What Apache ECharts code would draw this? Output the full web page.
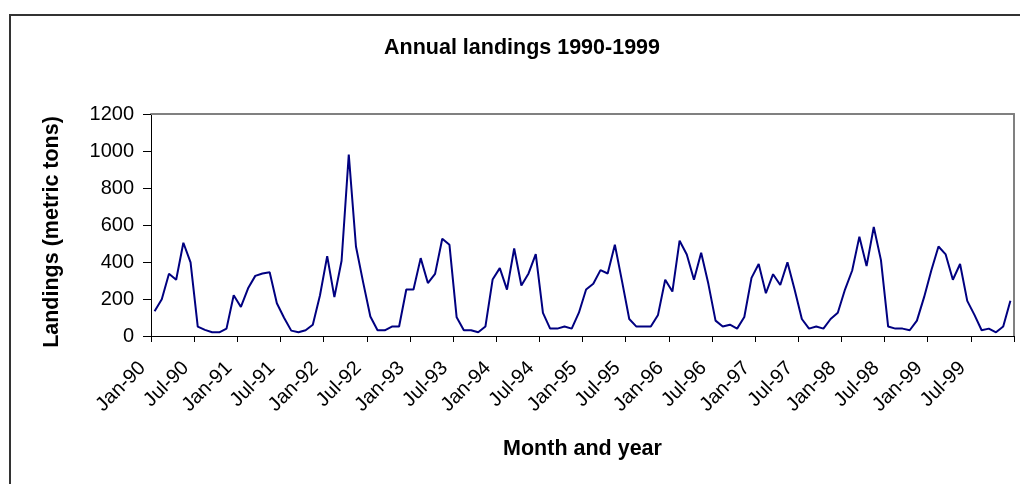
<!DOCTYPE html>
<html>
<head>
<meta charset="utf-8">
<title>Annual landings 1990-1999</title>
<script src="https://cdn.jsdelivr.net/npm/echarts@6/dist/echarts.min.js"></script>
<style>
  html, body { margin: 0; padding: 0; background: #fff; }
  #chart { width: 1020px; height: 484px; }
</style>
</head>
<body>
<div id="chart"></div>
<script>
// Month and year labels for the category axis
var MONTHS = ['Jan', 'Feb', 'Mar', 'Apr', 'May', 'Jun', 'Jul', 'Aug', 'Sep', 'Oct', 'Nov', 'Dec'];
var YEARS = ['90', '91', '92', '93', '94', '95', '96', '97', '98', '99'];

// Monthly landings, metric tons, one row per year
var landings = [
  134, 199, 336, 304, 504, 398,  51,  33,  20,  20,  40, 220,  // 1990
  157, 258, 325, 338, 345, 177,  99,  29,  20,  31,  61, 220,  // 1991
  432, 210, 407, 981, 484, 290, 105,  31,  31,  51,  51, 251,  // 1992
  251, 421, 286, 336, 526, 493, 101,  31,  31,  20,  51, 305,  // 1993
  367, 251, 473, 273, 338, 443, 125,  40,  40,  51,  40, 126,  // 1994
  251, 282, 356, 338, 493, 295,  92,  51,  51,  51, 114, 304,  // 1995
  240, 515, 441, 304, 450, 282,  83,  51,  61,  40, 103, 314,  // 1996
  389, 231, 334, 276, 398, 250,  92,  40,  51,  40,  92, 126,  // 1997
  251, 354, 537, 378, 589, 410,  51,  40,  40,  31,  83, 210,  // 1998
  354, 484, 441, 304, 389, 190, 114,  31,  40,  20,  51, 190   // 1999
];

// Y axis scale
var Y_MIN = 0, Y_MAX = 1200, Y_STEP = 200;

var categories = [];
YEARS.forEach(function (yy) {
  MONTHS.forEach(function (m) { categories.push(m + '-' + yy); });
});

var FONT = '"Liberation Sans", Arial, sans-serif';

var chart = echarts.init(document.getElementById('chart'), null, { renderer: 'canvas' });

chart.setOption({
  animation: false,
  backgroundColor: '#ffffff',
  textStyle: { fontFamily: FONT, color: '#000' },
  title: {
    text: 'Annual landings 1990-1999',
    left: 517,
    top: 32,
    textAlign: 'center',
    textStyle: { fontFamily: FONT, fontSize: 21.5, fontWeight: 'bold', color: '#000' }
  },
  graphic: [{
    // outer chart frame
    type: 'rect',
    silent: true,
    shape: { x: 10, y: 15, width: 1030, height: 500 },
    style: { fill: 'none', stroke: '#333333', lineWidth: 2 }
  }],
  grid: { left: 151, right: 6, top: 114, bottom: 148, containLabel: false },
  xAxis: [{
    type: 'category',
    data: categories,
    boundaryGap: true,
    name: 'Month and year',
    nameLocation: 'middle',
    nameGap: 102,
    nameTextStyle: { fontFamily: FONT, fontSize: 21.5, fontWeight: 'bold', color: '#000' },
    axisLine: { show: true, lineStyle: { color: '#000', width: 1 } },
    axisTick: { show: true, interval: 5, length: 6, lineStyle: { color: '#000', width: 1 } },
    axisLabel: {
      interval: 5,
      rotate: 45,
      margin: 17,
      padding: [0, 17, 0, 0],
      fontFamily: FONT,
      fontSize: 20,
      color: '#000'
    },
    splitLine: { show: false }
  }, {
    // plot frame, top edge
    type: 'category',
    position: 'top',
    data: categories,
    axisLine: { show: true, onZero: false, lineStyle: { color: '#808080', width: 2 } },
    axisTick: { show: false },
    axisLabel: { show: false },
    splitLine: { show: false }
  }],
  yAxis: [{
    type: 'value',
    min: Y_MIN,
    max: Y_MAX,
    interval: Y_STEP,
    name: 'Landings (metric tons)',
    nameLocation: 'middle',
    nameGap: 88,
    nameTextStyle: {
      fontFamily: FONT, fontSize: 21.5, fontWeight: 'bold', color: '#000',
      padding: [0, 14, 0, 0]
    },
    axisLine: { show: true, lineStyle: { color: '#000', width: 1 } },
    axisTick: { show: true, length: 8, lineStyle: { color: '#000', width: 1 } },
    axisLabel: {
      margin: 17, fontFamily: FONT, fontSize: 20, color: '#000',
      formatter: function (v) { return String(v); }
    },
    splitLine: { show: false }
  }, {
    // plot frame, right edge
    type: 'value',
    position: 'right',
    min: Y_MIN,
    max: Y_MAX,
    interval: Y_STEP,
    axisLine: { show: true, onZero: false, lineStyle: { color: '#808080', width: 2 } },
    axisTick: { show: false },
    axisLabel: { show: false },
    splitLine: { show: false }
  }],
  series: [{
    type: 'line',
    name: 'Landings',
    data: landings,
    xAxisIndex: 0,
    yAxisIndex: 0,
    symbol: 'none',
    lineStyle: { color: '#000080', width: 2 },
    itemStyle: { color: '#000080' },
    z: 3
  }]
});
</script>
</body>
</html>
